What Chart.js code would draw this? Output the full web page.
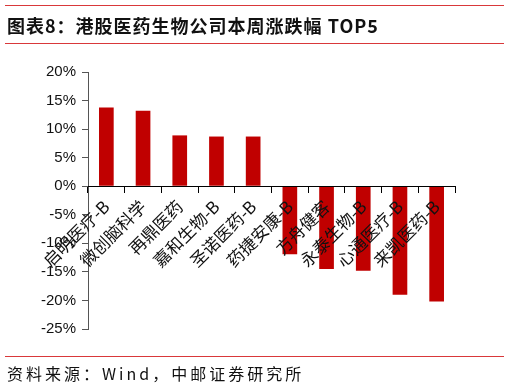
<!DOCTYPE html>
<html>
<head>
<meta charset="utf-8">
<script src="https://cdn.jsdelivr.net/npm/chart.js@4"></script>
<style>
  html, body { margin: 0; padding: 0; background: #fff; }
  #wrap { position: relative; width: 509px; height: 391px; }
  #chart { position: absolute; left: 0; top: 0; }
  .rule { position: absolute; left: 5px; width: 499px; height: 1px; background: #d9383a; }
  #title { position: absolute; left: 7px; top: 12px; font: bold 18px "Noto Sans CJK SC", sans-serif; color: #111; letter-spacing: 1px; }
  #source { position: absolute; left: 7px; top: 361px; font: 16px "Noto Sans CJK SC", sans-serif; color: #111; letter-spacing: 3px; }
</style>
</head>
<body>
<div id="wrap">
  <canvas id="chart" width="509" height="391"></canvas>
  <div class="rule" style="top:5px"></div>
  <div id="title">图表8：港股医药生物公司本周涨跌幅 TOP5</div>
  <div class="rule" style="top:43px"></div>
  <div class="rule" style="top:356px"></div>
  <div id="source">资料来源：Wind，中邮证券研究所</div>
</div>
<script>
// 港股医药生物本周涨跌幅 前五/后五
const companies = ['启明医疗-B', '微创脑科学', '再鼎医药', '嘉和生物-B', '圣诺医药-B',
                   '药捷安康-B', '方舟健客', '永泰生物-B', '心通医疗-B', '来凯医药-B'];
const weeklyChange = [13.8, 13.2, 8.9, 8.7, 8.7, -11.9, -14.5, -14.8, -19.0, -20.2];
const yMin = -25, yMax = 20, yStep = 5;

const canvas = document.getElementById('chart');
const ctx = canvas.getContext('2d');

const chart = new Chart(ctx, {
    type: 'bar',
    data: {
        labels: companies,
        datasets: [{
            data: weeklyChange,
            backgroundColor: '#c00000',
            borderWidth: 0,
            categoryPercentage: 1,
            barPercentage: 0.4
        }]
    },
    options: {
        responsive: false,
        animation: false,
        plugins: {
            legend: { display: false },
            tooltip: { enabled: false }
        },
        layout: {
            padding: { top: 72, bottom: 62, left: 0, right: 54 }
        },
        scales: {
            x: {
                position: { y: 0 },
                grid: {
                    offset: true,
                    drawOnChartArea: false,
                    drawTicks: true,
                    tickLength: 6,
                    color: '#000',
                    z: 1
                },
                border: { color: '#000', width: 1, z: 1 },
                ticks: {
                    z: 1,   // 标签画在柱子上面
                    minRotation: 45,
                    maxRotation: 45,
                    autoSkip: false,
                    color: '#111',
                    padding: 4,
                    font: { family: '"Noto Sans CJK SC", sans-serif', size: 17 }
                }
            },
            y: {
                min: yMin,
                max: yMax,
                afterFit: function (scale) { scale.width = 88; },
                grid: {
                    drawOnChartArea: false,
                    drawTicks: true,
                    tickLength: 6,
                    color: '#555'
                },
                border: { color: '#555', width: 1 },
                ticks: {
                    stepSize: yStep,
                    color: '#111',
                    padding: 6,
                    font: { family: '"Liberation Sans", Arial, sans-serif', size: 15 },
                    callback: function (v) { return v + '%'; }
                }
            }
        }
    }
});
</script>
</body>
</html>
